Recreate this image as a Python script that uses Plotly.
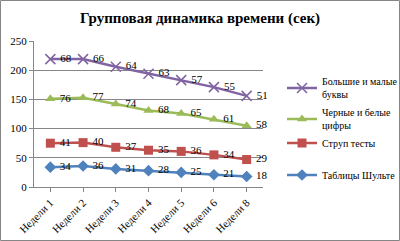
import plotly.graph_objects as go

weeks = ["Недели 1", "Недели 2", "Недели 3", "Недели 4", "Недели 5", "Недели 6", "Недели 8"]
schulte = [34, 36, 31, 28, 25, 21, 18]
stroop = [41, 40, 37, 35, 36, 34, 29]
digits = [76, 77, 74, 68, 65, 61, 58]
letters = [68, 66, 64, 63, 57, 55, 51]

series = [
    ("Таблицы Шульте", schulte, "#4F81BD", "diamond", "legend4"),
    ("Струп тесты", stroop, "#C0504D", "square", "legend3"),
    ("Черные и белые<br>цифры", digits, "#9BBB59", "triangle-up", "legend2"),
    ("Большие и малые<br>буквы", letters, "#8064A2", "x-thin", "legend"),
]

font = "Times New Roman, Liberation Serif, serif"
fig = go.Figure()
for name, vals, color, sym, leg in series:
    marker = dict(symbol=sym, size=9, color=color)
    if sym == "x-thin":
        marker = dict(symbol="x-thin-open", size=10, color=color, line=dict(color=color, width=1.5))
    fig.add_trace(go.Scatter(
        x=weeks, y=vals, name=name, stackgroup="s", fill="none",
        mode="lines+markers+text", text=[" " + str(v) for v in vals],
        textposition="middle right", textfont=dict(family=font, size=11, color="#000"),
        line=dict(color=color, width=2.5), marker=marker, legend=leg, cliponaxis=False,
    ))

def leg(py):
    return dict(x=1.083, y=(187 - py) / 146, xanchor="left", yanchor="middle",
                font=dict(family=font, size=10, color="#000"), itemwidth=30,
                bgcolor="rgba(0,0,0,0)")

fig.update_layout(
    width=400, height=241,
    margin=dict(l=34, r=137, t=41, b=54, autoexpand=False),
    paper_bgcolor="white", plot_bgcolor="white",
    title=dict(text="<b>Групповая динамика времени (сек)</b>", x=0.5, xanchor="center",
               y=0.925, yanchor="middle", font=dict(family=font, size=15, color="#000")),
    font=dict(family=font, size=11, color="#000"),
    showlegend=True,
    legend=leg(88), legend2=leg(119), legend3=leg(143), legend4=leg(175),
    xaxis=dict(type="category", range=[-0.5, 6.5], tickangle=-45, showgrid=False,
               showline=True, linecolor="#868686", ticks="outside", ticklen=4, tickcolor="#868686",
               tickfont=dict(family=font, size=11), automargin=False),
    yaxis=dict(range=[0, 250], dtick=50, showgrid=True, gridcolor="#868686", gridwidth=1,
               showline=True, linecolor="#868686", ticks="outside", ticklen=4, tickcolor="#868686",
               zeroline=False, tickfont=dict(family=font, size=11), automargin=False),
    shapes=[dict(type="rect", xref="paper", yref="paper",
                 x0=-33.5/229, x1=365.5/229, y0=-53.5/146, y1=186.5/146,
                 line=dict(color="#868686", width=1))],
)

fig.write_html("out.html", config={"displayModeBar": False},
               post_script="document.body.style.margin='0';")
